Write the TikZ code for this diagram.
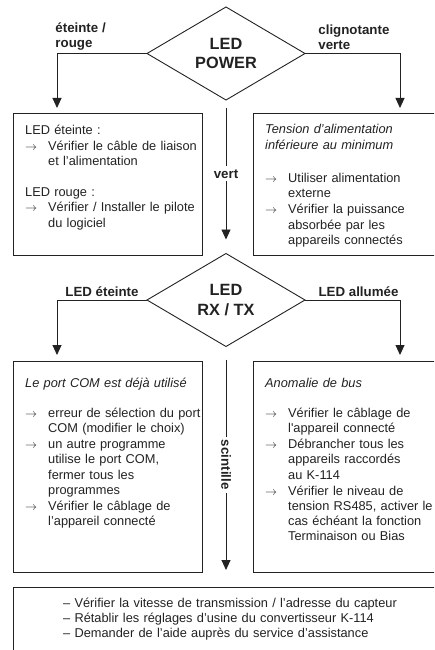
\documentclass[tikz,border=0pt]{standalone}
\usepackage{fontspec}
\setmainfont{Liberation Sans}
\usetikzlibrary{shapes.geometric,arrows.meta,positioning}
\definecolor{ink}{HTML}{222222}
\newcommand{\arrowitem}[1]{\par\noindent\makebox[23pt][l]{\(\rightarrow\)}\parbox[t]{172pt}{\strut#1\strut}}
\begin{document}
\begin{tikzpicture}[x=1pt,y=-1pt,
  decision/.style={diamond,draw=ink,line width=0.9pt,inner sep=0pt,outer sep=0pt,
    minimum width=158pt,minimum height=93pt,aspect=1.7,align=center,
    font=\fontsize{16.3}{19.5}\selectfont\bfseries,text=ink},
  panel/.style={draw=ink,line width=0.9pt,anchor=north west,inner sep=0pt,outer sep=0pt},
  body/.style={anchor=base west,inner sep=0pt,text width=195pt,align=left,
    font=\fontsize{12.8}{15.2}\selectfont,text=ink},
  tag/.style={font=\fontsize{13.3}{15}\selectfont\bfseries,text=ink,align=left},
  arr/.style={draw=ink,line width=0.9pt,-{Triangle[width=9pt,length=10pt]}}]
  % Frame
  \useasboundingbox (0,0) rectangle (434,650);
  \clip (0,0) rectangle (434,650);
  % Decisions
  \node[decision] (power) at (226,53.5) {LED\\POWER};
  \node[decision] (rxtx) at (226,300) {LED\\RX / TX};
  % Boxes
  \node[panel,minimum width=189pt,minimum height=142pt] (offbox) at (13,113) {};
  \node[panel,minimum width=200pt,minimum height=142pt] (lowbox) at (253,113) {};
  \node[panel,minimum width=189pt,minimum height=211pt] (combox) at (13,361) {};
  \node[panel,minimum width=200pt,minimum height=211pt] (busbox) at (253,361) {};
  \node[panel,minimum width=440pt,minimum height=80pt] (helpbox) at (13,587) {};
  % Box texts
  \node[body] (offtxt) at ([xshift=12pt,yshift=-22pt]offbox.north west)
    {LED éteinte :\arrowitem{Vérifier le câble de liaison\\et l’alimentation}\par\vspace{17pt}%
     \noindent LED rouge :\arrowitem{Vérifier / Installer le pilote\\du logiciel}};
  \node[body] (lowtxt) at ([xshift=12pt,yshift=-21pt]lowbox.north west)
    {\textit{Tension d’alimentation\\inférieure au minimum}\par\vspace{18pt}%
     \arrowitem{Utiliser alimentation\\externe}\arrowitem{Vérifier la puissance\\absorbée par les\\appareils connectés}};
  \node[body] (comtxt) at ([xshift=12pt,yshift=-26pt]combox.north west)
    {\textit{Le port COM est déjà utilisé}\par\vspace{15pt}%
     \arrowitem{erreur de sélection du port\\COM (modifier le choix)}%
     \arrowitem{un autre programme\\utilise le port COM,\\fermer tous les\\programmes}%
     \arrowitem{Vérifier le câblage de\\l’appareil connecté}};
  \node[body] (bustxt) at ([xshift=12pt,yshift=-26pt]busbox.north west)
    {\textit{Anomalie de bus}\par\vspace{15pt}%
     \arrowitem{Vérifier le câblage de\\l\textquotesingle appareil connecté}%
     \arrowitem{Débrancher tous les\\appareils raccordés\\au K-114}%
     \arrowitem{Vérifier le niveau de\\tension RS485, activer le\\cas échéant la fonction\\Terminaison ou Bias}};
  \node[body,text width=380pt] (helptxt) at ([xshift=50pt,yshift=-20pt]helpbox.north west)
    {– Vérifier la vitesse de transmission / l’adresse du capteur\\
     – Rétablir les réglages d’usine du convertisseur K-114\\
     – Demander de l’aide auprès du service d’assistance};
  % Branches of LED POWER
  \draw[arr] (power.west) -| ([xshift=44pt,yshift=5pt]offbox.north west)
    node[pos=0.5,tag,anchor=south west,inner sep=0pt,xshift=-2pt,yshift=3pt] (offlbl) {éteinte /\\rouge};
  \draw[arr] (power.east) -| ([xshift=147pt,yshift=5pt]lowbox.north west)
    node[pos=0,tag,anchor=south west,inner sep=0pt,xshift=13pt,yshift=3pt] (greenlbl) {clignotante\\verte};
  \draw[arr] ([yshift=-8pt]power.south) -- ([yshift=14pt]rxtx.north)
    node[midway,tag,fill=white] (vertlbl) {vert};
  % Branches of LED RX / TX
  \draw[arr] (rxtx.west) -| ([xshift=44pt,yshift=6pt]combox.north west)
    node[pos=0.25,tag,above] (darklbl) {LED éteinte};
  \draw[arr] (rxtx.east) -| ([xshift=147pt,yshift=6pt]busbox.north west)
    node[pos=0.25,tag,above,xshift=6pt] (litlbl) {LED allumée};
  \draw[arr] ([yshift=-13pt]rxtx.south) -- ([yshift=17pt]helpbox.north -| rxtx.south)
    node[midway,tag,fill=white,rotate=-90] (flashlbl) {scintille};
\end{tikzpicture}
\end{document}
